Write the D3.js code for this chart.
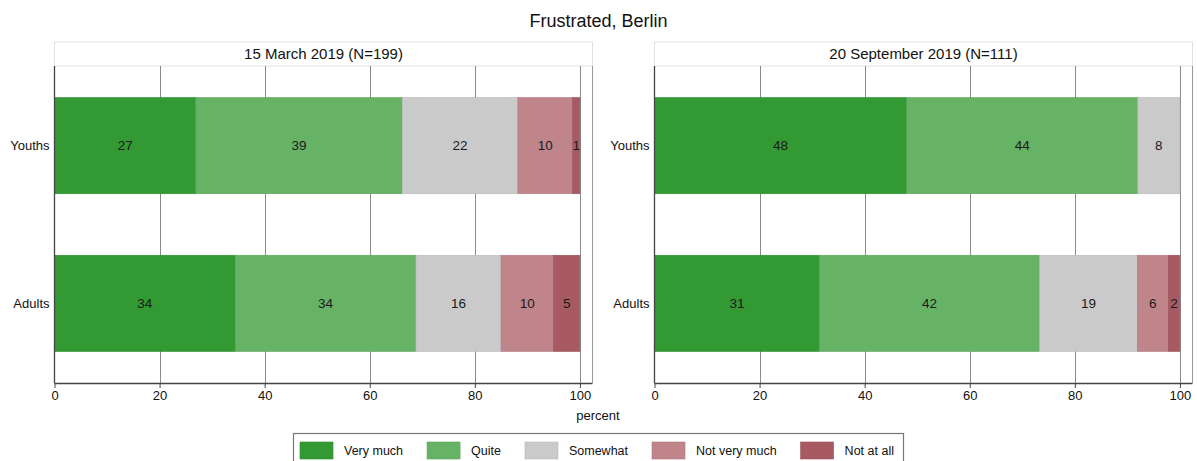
<!DOCTYPE html>
<html>
<head>
<meta charset="utf-8">
<script src="https://cdn.jsdelivr.net/npm/d3@7"></script>
<style>
  html, body { margin: 0; padding: 0; background: #fff; }
  svg { display: block; font-family: "Liberation Sans", Arial, Helvetica, sans-serif; }
</style>
</head>
<body>
<svg id="chart" width="1197" height="461"></svg>
<script>
// ---- data ----
const title = "Frustrated, Berlin";
const categories = ["Youths", "Adults"];
const responses = ["Very much", "Quite", "Somewhat", "Not very much", "Not at all"];
const panelTitles = ["15 March 2019 (N=199)", "20 September 2019 (N=111)"];
const marchYouths = [26.9, 39.3, 22.0, 10.4, 1.4];
const marchAdults = [34.4, 34.4, 16.2, 10.0, 5.0];
const septYouths = [48.0, 44.0, 8.0, 0, 0];
const septAdults = [31.4, 41.9, 18.6, 5.9, 2.2];
const xTicks = [0, 20, 40, 60, 80, 100];
const xLabel = "percent";
const colors = ["#339933", "#66b366", "#cacaca", "#c0848b", "#a85a63"];

const panels = [
  { title: panelTitles[0], rows: [marchYouths, marchAdults] },
  { title: panelTitles[1], rows: [septYouths, septAdults] }
];

// ---- layout ----
const svg = d3.select("#chart");
const W = 1197;
const plotTop = 66, plotBottom = 383;
const stripTop = 42;
const panelRanges = [[54.5, 592.5], [654.5, 1192.5]];
const fmt = d3.format(".0f");

svg.append("text")
  .attr("x", W / 2).attr("y", 27)
  .attr("text-anchor", "middle")
  .attr("font-size", 18).attr("fill", "#111")
  .text(title);

const y = d3.scaleBand().domain(categories).range([plotTop, plotBottom])
  .paddingInner(0.39).paddingOuter(0.2);

panels.forEach((p, pi) => {
  const [x0, x1] = panelRanges[pi];
  const x = d3.scaleLinear().domain([0, 102.4]).range([x0, x1]);
  const g = svg.append("g");

  // strip
  g.append("rect")
    .attr("x", x0).attr("y", stripTop)
    .attr("width", x1 - x0).attr("height", plotTop - stripTop)
    .attr("fill", "#fff").attr("stroke", "#e2e2e2").attr("stroke-width", 1);
  g.append("text")
    .attr("x", (x0 + x1) / 2).attr("y", 59)
    .attr("text-anchor", "middle").attr("font-size", 15).attr("fill", "#111")
    .text(p.title);

  // plot frame (right side light)
  g.append("line")
    .attr("x1", x1).attr("x2", x1).attr("y1", plotTop).attr("y2", plotBottom)
    .attr("stroke", "#9a9a9a").attr("stroke-width", 1);

  // gridlines
  g.selectAll(".grid").data(xTicks.slice(1)).join("line")
    .attr("x1", d => Math.round(x(d)) + 0.5).attr("x2", d => Math.round(x(d)) + 0.5)
    .attr("y1", plotTop).attr("y2", plotBottom)
    .attr("stroke", "#8a8a8a").attr("stroke-width", 1);

  // bars
  p.rows.forEach((vals, ri) => {
    const cat = categories[ri];
    const stack = [];
    let cum = 0;
    vals.forEach((v, i) => { stack.push({ v, start: cum, end: cum + v, i }); cum += v; });
    const seg = stack.filter(d => d.v > 0);
    g.selectAll(".bar" + ri).data(seg).join("rect")
      .attr("x", d => x(d.start)).attr("width", d => x(d.end) - x(d.start))
      .attr("y", y(cat)).attr("height", y.bandwidth())
      .attr("fill", d => colors[d.i])
      .attr("stroke", d => d3.color(colors[d.i]).darker(0.25))
      .attr("stroke-width", 0.6);
    g.selectAll(".lab" + ri).data(seg).join("text")
      .attr("x", d => (x(d.start) + x(d.end)) / 2)
      .attr("y", y(cat) + y.bandwidth() / 2)
      .attr("dy", "0.35em")
      .attr("text-anchor", "middle").attr("font-size", 13.5).attr("fill", "#1a1a1a")
      .text(d => fmt(d.v));
  });

  // y axis line and labels
  g.append("line")
    .attr("x1", x0).attr("x2", x0).attr("y1", plotTop).attr("y2", plotBottom)
    .attr("stroke", "#444").attr("stroke-width", 1.3);
  g.selectAll(".ylab").data(categories).join("text")
    .attr("x", x0 - 5).attr("y", d => y(d) + y.bandwidth() / 2)
    .attr("dy", "0.35em").attr("text-anchor", "end")
    .attr("font-size", 13).attr("fill", "#111")
    .text(d => d);

  // x axis
  const axis = d3.axisBottom(x).tickValues(xTicks).tickSize(5).tickPadding(3).tickFormat(d3.format("d"));
  const ax = g.append("g").attr("transform", `translate(0,${plotBottom})`).call(axis);
  ax.select(".domain").attr("d", `M${x0},0.5H${x1}`).attr("stroke", "#444").attr("stroke-width", 1.3);
  ax.selectAll(".tick line").attr("stroke", "#444");
  ax.selectAll(".tick text").attr("font-size", 13).attr("fill", "#111")
    .attr("font-family", "'Liberation Sans', Arial, sans-serif");
});

svg.append("text")
  .attr("x", 598).attr("y", 420)
  .attr("text-anchor", "middle").attr("font-size", 13).attr("fill", "#111")
  .text(xLabel);

// legend
const legendX0 = 293.5, legendX1 = 903.5, legendTop = 433.5;
svg.append("rect")
  .attr("x", legendX0).attr("y", legendTop)
  .attr("width", legendX1 - legendX0).attr("height", 40)
  .attr("fill", "#fff").attr("stroke", "#777").attr("stroke-width", 1.2);
const lg = svg.selectAll(".leg").data(responses).join("g");
lg.append("rect")
  .attr("width", 33).attr("height", 17)
  .attr("fill", (d, i) => colors[i])
  .attr("stroke", (d, i) => d3.color(colors[i]).darker(0.25)).attr("stroke-width", 0.6);
lg.append("text")
  .attr("x", 44).attr("y", 9).attr("dy", "0.35em")
  .attr("font-size", 12.5).attr("fill", "#111")
  .text(d => d);
// sequential placement based on text widths
let cursor = 300;
lg.each(function () {
  const g = d3.select(this);
  g.attr("transform", `translate(${cursor},442)`);
  const tw = g.select("text").node().getComputedTextLength();
  cursor += 44 + tw + 24;
});
</script>
</body>
</html>
